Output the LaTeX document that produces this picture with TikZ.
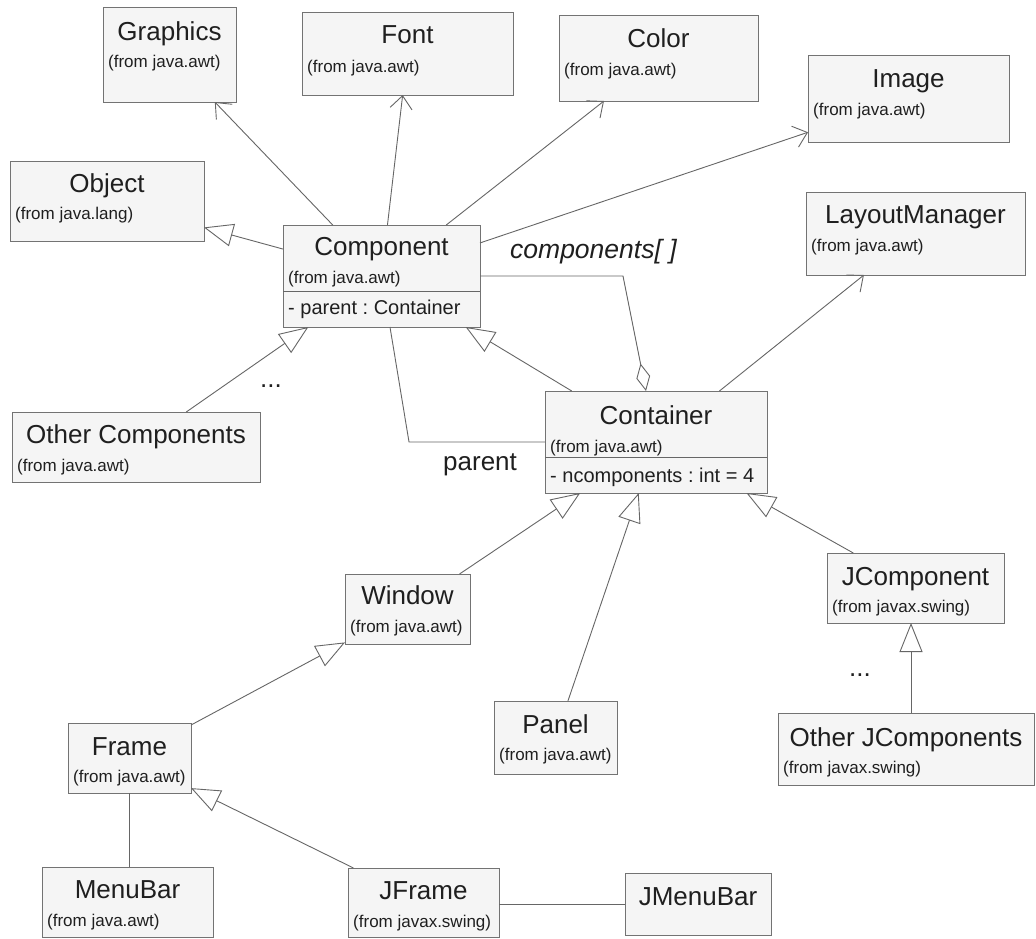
\documentclass[tikz,border=0pt]{standalone}
\usepackage{fontspec}
\setmainfont{Liberation Sans}
\frenchspacing
\usetikzlibrary{arrows.meta}
\begin{document}
\begin{tikzpicture}
        [
            x=1pt, y=-1pt,
            box/.style = {draw=black!55, fill=black!4, line width=0.9pt, rectangle, inner sep=0pt, outer sep=0pt},
            title/.style = {anchor=base, inner sep=0pt, text=black!88, font=\fontsize{26}{30}\selectfont},
            from/.style = {anchor=base west, inner sep=0pt, text=black!88, font=\fontsize{17}{20}\selectfont},
            attr/.style = {anchor=base west, inner sep=0pt, text=black!88, font=\fontsize{20}{24}\selectfont},
            lbl/.style = {anchor=base west, inner sep=0pt, text=black!88, font=\fontsize{26}{30}\selectfont},
            link/.style = {draw=black!60, line width=0.9pt},
            nav/.style = {link, -{Straight Barb[length=13pt, width=22pt]}},
            gen/.style = {link, -{Triangle[open, length=29pt, width=23pt]}},
            aggr/.style = {link, -{Diamond[open, length=28pt, width=14pt]}},
        ]
        \path[fill=white] (0,0) rectangle (1036,938);
        \useasboundingbox (0,0) rectangle (1036,938);
        \node [box, minimum width=133pt, minimum height=95pt] (graphics) at (169.5,54.5) {};
        \node [box, minimum width=211pt, minimum height=83pt] (font) at (407.5,53.5) {};
        \node [box, minimum width=199pt, minimum height=86pt] (color) at (658.5,58) {};
        \node [box, minimum width=201pt, minimum height=87pt] (image) at (908.5,98.5) {};
        \node [box, minimum width=194pt, minimum height=80pt] (object) at (107,201) {};
        \node [box, minimum width=197pt, minimum height=102pt] (component) at (381.5,276) {};
        \node [box, minimum width=219pt, minimum height=83pt] (layoutmgr) at (915.5,233.5) {};
        \node [box, minimum width=248pt, minimum height=70pt] (othercomp) at (136,447) {};
        \node [box, minimum width=222pt, minimum height=102pt] (container) at (656,442) {};
        \node [box, minimum width=125pt, minimum height=70pt] (window) at (407.5,609) {};
        \node [box, minimum width=177pt, minimum height=70pt] (jcomponent) at (915.5,588) {};
        \node [box, minimum width=123pt, minimum height=73pt] (panel) at (555.5,737.5) {};
        \node [box, minimum width=256pt, minimum height=72pt] (otherjcomp) at (906,749) {};
        \node [box, minimum width=123pt, minimum height=70pt] (frame) at (129.5,758) {};
        \node [box, minimum width=171pt, minimum height=70pt] (menubar) at (127.5,902) {};
        \node [box, minimum width=151pt, minimum height=69pt] (jframe) at (423.5,902.5) {};
        \node [box, minimum width=146pt, minimum height=62pt] (jmenubar) at (698,904) {};
        \node [title] (graphics-t) at ([yshift=-33pt]graphics.north) {Graphics};
        \node [from] (graphics-f) at ([xshift=5pt, yshift=-60pt]graphics.north west) {(from java.awt)};
        \node [title] (font-t) at ([yshift=-31pt]font.north) {Font};
        \node [from] (font-f) at ([xshift=5pt, yshift=-60pt]font.north west) {(from java.awt)};
        \node [title] (color-t) at ([yshift=-32pt]color.north) {Color};
        \node [from] (color-f) at ([xshift=5pt, yshift=-60pt]color.north west) {(from java.awt)};
        \node [title] (image-t) at ([yshift=-32pt]image.north) {Image};
        \node [from] (image-f) at ([xshift=5pt, yshift=-60pt]image.north west) {(from java.awt)};
        \node [title] (object-t) at ([yshift=-31pt]object.north) {Object};
        \node [from] (object-f) at ([xshift=5pt, yshift=-58pt]object.north west) {(from java.lang)};
        \node [title] (component-t) at ([yshift=-30pt]component.north) {Component};
        \node [from] (component-f) at ([xshift=5pt, yshift=-58pt]component.north west) {(from java.awt)};
        \node [attr] (component-a) at ([xshift=5pt, yshift=-89pt]component.north west) {- parent : Container};
        \node [title] (layoutmgr-t) at ([yshift=-31pt]layoutmgr.north) {LayoutManager};
        \node [from] (layoutmgr-f) at ([xshift=5pt, yshift=-59pt]layoutmgr.north west) {(from java.awt)};
        \node [title] (othercomp-t) at ([yshift=-31pt]othercomp.north) {Other Components};
        \node [from] (othercomp-f) at ([xshift=5pt, yshift=-59pt]othercomp.north west) {(from java.awt)};
        \node [title] (container-t) at ([yshift=-33pt]container.north) {Container};
        \node [from] (container-f) at ([xshift=5pt, yshift=-61pt]container.north west) {(from java.awt)};
        \node [attr] (container-a) at ([xshift=5pt, yshift=-91pt]container.north west) {- ncomponents : int = 4};
        \node [title] (window-t) at ([yshift=-30pt]window.north) {Window};
        \node [from] (window-f) at ([xshift=5pt, yshift=-58pt]window.north west) {(from java.awt)};
        \node [title] (jcomponent-t) at ([yshift=-32pt]jcomponent.north) {JComponent};
        \node [from] (jcomponent-f) at ([xshift=5pt, yshift=-59pt]jcomponent.north west) {(from javax.swing)};
        \node [title] (panel-t) at ([yshift=-32pt]panel.north) {Panel};
        \node [from] (panel-f) at ([xshift=5pt, yshift=-59pt]panel.north west) {(from java.awt)};
        \node [title] (otherjcomp-t) at ([yshift=-33pt]otherjcomp.north) {Other JComponents};
        \node [from] (otherjcomp-f) at ([xshift=5pt, yshift=-60pt]otherjcomp.north west) {(from javax.swing)};
        \node [title] (frame-t) at ([yshift=-32pt]frame.north) {Frame};
        \node [from] (frame-f) at ([xshift=5pt, yshift=-59pt]frame.north west) {(from java.awt)};
        \node [title] (menubar-t) at ([yshift=-31pt]menubar.north) {MenuBar};
        \node [from] (menubar-f) at ([xshift=5pt, yshift=-59pt]menubar.north west) {(from java.awt)};
        \node [title] (jframe-t) at ([yshift=-31pt]jframe.north) {JFrame};
        \node [from] (jframe-f) at ([xshift=5pt, yshift=-59pt]jframe.north west) {(from javax.swing)};
        \node [title] (jmenubar-t) at ([yshift=-32pt]jmenubar.north) {JMenuBar};
        \node [lbl, font=\fontsize{26.5}{30}\selectfont\itshape] (comps) at (510,258) {components[ ]};
        \node [lbl] (parent) at (443,470) {parent};
        \node [lbl] (dots1) at (260,387) {...};
        \node [lbl] (dots2) at (849,676) {...};
        \coordinate (cbend) at (623,276);
        \coordinate (pbend) at (409,442);
        \draw[link] ([yshift=-66pt]component.north west) -- ([yshift=-66pt]component.north east);
        \draw[link] ([yshift=-66pt]container.north west) -- ([yshift=-66pt]container.north east);
        \draw[nav] (component) -- (graphics);
        \draw[nav] (component) -- (font);
        \draw[nav] (component) -- (color);
        \draw[nav] (component) -- (image);
        \draw[nav] (container) -- (layoutmgr);
        \draw[gen] (component) -- (object);
        \draw[gen] (othercomp) -- (component);
        \draw[gen] (container) -- (component);
        \draw[gen] (window) -- (container);
        \draw[gen] (panel) -- (container);
        \draw[gen] (jcomponent) -- (container);
        \draw[gen] ([xshift=5pt]otherjcomp.north) -- ([xshift=-4.5pt]jcomponent.south);
        \draw[gen] (frame) -- (window);
        \draw[gen] (jframe) -- (frame);
        \draw[aggr] (component.east) -- (cbend) -- ([xshift=-10pt]container.north);
        \draw[link] ([xshift=8.5pt]component.south) -- (pbend) -- (container.west);
        \draw[link] (frame.south) -- (frame.south |- menubar.north);
        \draw[link] (jframe.east |- jmenubar) -- (jmenubar.west);
    \end{tikzpicture}
\end{document}
